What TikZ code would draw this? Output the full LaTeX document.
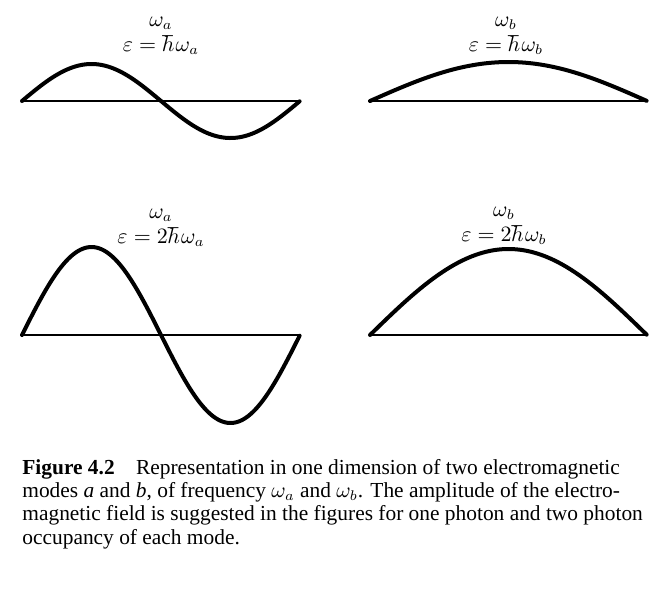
\documentclass[tikz,border=0pt]{standalone}
\usepackage{fontspec}
\setmainfont{Liberation Serif}
\begin{document}
\begin{tikzpicture}[x=0.5pt,y=-0.5pt,
  wave/.style={line width=2pt, line join=round, line cap=round},
  axis/.style={line width=1pt},
  lbl/.style={font=\fontsize{10.5}{12.5}\selectfont, inner sep=0pt, align=center},
  captxt/.style={font=\fontsize{10.7}{11.6}\selectfont, inner sep=0pt, anchor=north west, align=left}]
\useasboundingbox (0,0) rectangle (663,591);
% top left: mode a, one photon
\coordinate (a1s) at (22,101);
\coordinate (a1e) at (300,101);
\draw[axis] (a1s) -- (a1e);
\draw[wave] plot[domain=0:1, samples=120] ({22+278*\x},{101-37*sin(360*\x)});
\node[lbl] (la1) at (161,36) {$\omega_a$\\$\varepsilon = \hbar\mkern1mu\omega_a$};
% top right: mode b, one photon
\coordinate (b1s) at (370,101);
\coordinate (b1e) at (647,101);
\draw[axis] (b1s) -- (b1e);
\draw[wave] plot[domain=0:1, samples=120] ({370+277*\x},{101-39*sin(180*\x)});
\node[lbl] (lb1) at (506,36) {$\omega_b$\\$\varepsilon = \hbar\mkern1mu\omega_b$};
% bottom left: mode a, two photons
\coordinate (a2s) at (22,335);
\coordinate (a2e) at (300,335);
\draw[axis] (a2s) -- (a2e);
\draw[wave] plot[domain=0:1, samples=120] ({22+278*\x},{335-88*sin(360*\x)});
\node[lbl] (la2) at (161,228) {$\omega_a$\\$\varepsilon = 2\hbar\mkern1mu\omega_a$};
% bottom right: mode b, two photons
\coordinate (b2s) at (370,335);
\coordinate (b2e) at (647,335);
\draw[axis] (b2s) -- (b2e);
\draw[wave] plot[domain=0:1, samples=120] ({370+277*\x},{335-86*sin(180*\x)});
\node[lbl] (lb2) at (504,226) {$\omega_b$\\$\varepsilon = 2\hbar\mkern1mu\omega_b$};
% caption
\node[captxt] (caption) at (22,459) {\textbf{Figure 4.2}\quad Representation in one dimension of two electromagnetic\\
modes \textit{a} and \textit{b}, of frequency $\omega_a$ and $\omega_b$. The amplitude of the electro-\\
magnetic field is suggested in the figures for one photon and two photon\\
occupancy of each mode.};
\end{tikzpicture}
\end{document}
